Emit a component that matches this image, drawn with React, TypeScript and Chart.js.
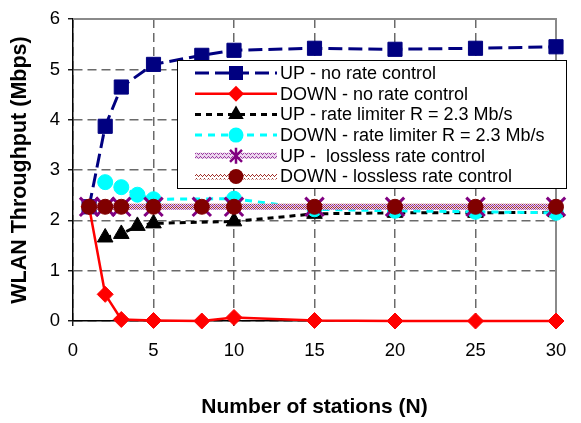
import React, { useEffect, useRef } from 'react';
import { Chart, registerables } from 'chart.js';

Chart.register(...registerables);

// ---- data ----
const xNoRate = [1, 2, 3, 5, 8, 10, 15, 20, 25, 30];
const upNoRate = [2.27, 3.87, 4.65, 5.1, 5.28, 5.38, 5.42, 5.4, 5.42, 5.45];
const downNoRate = [2.27, 0.53, 0.03, 0.01, 0.0, 0.07, 0.01, 0.0, 0.0, 0.0];
const xLimiter = [2, 3, 4, 5, 10, 15, 20, 25, 30];
const upLimiter = [1.66, 1.73, 1.89, 1.94, 1.98, 2.13, 2.15, 2.15, 2.16];
const downLimiter = [2.76, 2.66, 2.51, 2.42, 2.43, 2.22, 2.19, 2.17, 2.15];
const xLossless = [1, 2, 3, 5, 8, 10, 15, 20, 25, 30];
const upLossless = [2.27, 2.27, 2.27, 2.27, 2.27, 2.27, 2.27, 2.27, 2.27, 2.27];
const downLossless = [2.27, 2.27, 2.27, 2.27, 2.27, 2.27, 2.27, 2.27, 2.27, 2.27];
const seriesLabels = [
  'UP - no rate control',
  'DOWN - no rate control',
  'UP - rate limiter R = 2.3 Mb/s',
  'DOWN - rate limiter R = 2.3 Mb/s',
  'UP -  lossless rate control',
  'DOWN - lossless rate control',
];
const xAxisTitle = 'Number of stations (N)';
const yAxisTitle = 'WLAN Throughput (Mbps)';
const xRange = [0, 30, 5];
const yRange = [0, 6, 1];

const FONT = "'Liberation Sans', Arial, Helvetica, sans-serif";

function toPoints(xs: number[], ys: number[]) {
  return xs.map((x, i) => ({ x, y: ys[i] }));
}

function makePattern(ctx: CanvasRenderingContext2D, fg: string, bg: string | null, phase: number) {
  const c = document.createElement('canvas');
  c.width = 4;
  c.height = 4;
  const g = c.getContext('2d')!;
  if (bg) {
    g.fillStyle = bg;
    g.fillRect(0, 0, 4, 4);
  }
  g.fillStyle = fg;
  const pts = phase === 0 ? [[0, 0], [1, 1], [2, 2], [3, 1]] : [[0, 2], [1, 3], [2, 0], [3, 3]];
  pts.forEach(([x, y]) => g.fillRect(x, y, 1, 1));
  return ctx.createPattern(c, 'repeat')!;
}

export default function App() {
  const ref = useRef<HTMLCanvasElement>(null);

  useEffect(() => {
    const canvas = ref.current!;
    const ctx = canvas.getContext('2d')!;
    const patUp = makePattern(ctx, '#9a3aa0', '#ecd6ee', 0);
    const patDown = makePattern(ctx, '#a0302a', null, 1);

    const styles = [
      { color: '#000080', width: 3, dash: [14, 6], marker: 'rect', stroke: '#000080' as any },
      { color: '#ff0000', width: 2.5, dash: [], marker: 'diamond', stroke: '#ff0000' as any },
      { color: '#000000', width: 3, dash: [6, 5], marker: 'triangle', stroke: '#000000' as any },
      { color: '#00ffff', width: 3, dash: [7, 6], marker: 'circle', stroke: '#00ffff' as any },
      { color: '#800080', width: 6, dash: [], marker: 'star', stroke: patUp as any },
      { color: '#800000', width: 6, dash: [], marker: 'circle', stroke: patDown as any },
    ];

    const drawMarker = (c: CanvasRenderingContext2D, kind: string, color: string, x: number, y: number) => {
      c.save();
      c.fillStyle = color;
      c.strokeStyle = color;
      c.setLineDash([]);
      c.beginPath();
      if (kind === 'rect') {
        c.rect(x - 7, y - 7, 14, 14);
        c.fill();
      } else if (kind === 'diamond') {
        c.moveTo(x, y - 8);
        c.lineTo(x + 8, y);
        c.lineTo(x, y + 8);
        c.lineTo(x - 8, y);
        c.closePath();
        c.fill();
      } else if (kind === 'triangle') {
        const r = 9;
        c.moveTo(x, y - r);
        c.lineTo(x + r * 0.866, y + r / 2);
        c.lineTo(x - r * 0.866, y + r / 2);
        c.closePath();
        c.fill();
      } else if (kind === 'circle') {
        c.arc(x, y, 7.5, 0, Math.PI * 2);
        c.fill();
      } else if (kind === 'star') {
        c.lineWidth = 2.5;
        c.moveTo(x, y - 8);
        c.lineTo(x, y + 8);
        c.moveTo(x - 6, y - 6);
        c.lineTo(x + 6, y + 6);
        c.moveTo(x + 6, y - 6);
        c.lineTo(x - 6, y + 6);
        c.stroke();
      }
      c.restore();
    };

    const framePlugin = {
      id: 'frame',
      beforeDatasetsDraw(chart: any) {
        const { ctx: c, chartArea: a } = chart;
        c.save();
        c.strokeStyle = '#8a8a8a';
        c.lineWidth = 2;
        c.setLineDash([]);
        c.beginPath();
        c.moveTo(a.left, a.top);
        c.lineTo(a.right, a.top);
        c.lineTo(a.right, a.bottom);
        c.stroke();
        c.restore();
      },
    };

    const legendPlugin = {
      id: 'customLegend',
      afterDraw(chart: any) {
        const c: CanvasRenderingContext2D = chart.ctx;
        const bx = 177.5, by = 60.5, bw = 389, bh = 128;
        c.save();
        c.fillStyle = '#ffffff';
        c.fillRect(bx, by, bw, bh);
        c.strokeStyle = '#000000';
        c.lineWidth = 1;
        c.strokeRect(bx, by, bw, bh);
        seriesLabels.forEach((label, i) => {
          const s = styles[i];
          const y = 73 + i * 20.7;
          c.save();
          c.strokeStyle = s.stroke;
          c.lineWidth = s.width;
          c.setLineDash(s.dash);
          c.lineDashOffset = 0;
          c.beginPath();
          c.moveTo(195, y);
          c.lineTo(277, y);
          c.stroke();
          c.restore();
          drawMarker(c, s.marker, s.color, 236, y);
          c.fillStyle = '#000000';
          c.font = `18px ${FONT}`;
          c.textAlign = 'left';
          c.textBaseline = 'middle';
          c.fillText(label, 280, y + 1);
        });
        c.restore();
      },
    };

    const mk = (i: number, data: any[], pointStyle: string, radius: number, extra: any = {}) => ({
      label: seriesLabels[i],
      data,
      borderColor: styles[i].stroke,
      borderWidth: styles[i].width,
      borderDash: styles[i].dash,
      backgroundColor: styles[i].color,
      pointStyle,
      pointRadius: radius,
      pointBackgroundColor: styles[i].color,
      pointBorderColor: styles[i].color,
      pointBorderWidth: 1,
      tension: 0,
      fill: false,
      clip: false,
      order: 10 - i,
      ...extra,
    });

    const chart = new Chart(canvas, {
      type: 'line',
      data: {
        datasets: [
          mk(0, toPoints(xNoRate, upNoRate), 'rect', 10),
          mk(1, toPoints(xNoRate, downNoRate), 'rectRot', 8),
          mk(2, toPoints(xLimiter, upLimiter), 'triangle', 9),
          mk(3, toPoints(xLimiter, downLimiter), 'circle', 7.5),
          mk(4, toPoints(xLossless, upLossless), 'crossRot', 13, { pointBorderWidth: 3 }),
          mk(5, toPoints(xLossless, downLossless), 'circle', 7.5),
        ] as any,
      },
      options: {
        animation: false,
        responsive: false,
        devicePixelRatio: 1,
        layout: { padding: { left: 0, top: 15, right: 25, bottom: 0 } },
        plugins: { legend: { display: false }, tooltip: { enabled: false } },
        scales: {
          x: {
            type: 'linear',
            min: xRange[0],
            max: xRange[1],
            ticks: { stepSize: xRange[2], color: '#000', font: { family: FONT, size: 18.5 }, padding: 14, maxRotation: 0 },
            grid: { color: '#6a6a6a', lineWidth: 1.5, tickColor: '#000', tickLength: 5, tickWidth: 1.3 },
            border: { color: '#000', width: 1.5, dash: [9, 5] },
            title: { display: true, text: xAxisTitle, color: '#000', font: { family: FONT, size: 21, weight: 'bold' }, padding: { top: 0, bottom: 3 } },
            afterFit: (s: any) => { s.height = 102; },
          },
          y: {
            type: 'linear',
            min: yRange[0],
            max: yRange[1],
            ticks: { stepSize: yRange[2], color: '#000', font: { family: FONT, size: 18.5 }, padding: 8 },
            grid: { color: '#6a6a6a', lineWidth: 1.5, tickColor: '#000', tickLength: 5, tickWidth: 1.3 },
            border: { color: '#000', width: 1.5, dash: [9, 5] },
            title: { display: true, text: yAxisTitle, color: '#000', font: { family: FONT, size: 21.5, weight: 'bold' }, padding: { top: 7, bottom: 0 } },
            afterFit: (s: any) => { s.width = 73; },
          },
        },
      } as any,
      plugins: [framePlugin, legendPlugin],
    });

    return () => chart.destroy();
  }, []);

  return (
    <div style={{ position: 'absolute', left: 0, top: 0, width: 581, height: 423, background: '#fff' }}>
      <canvas ref={ref} width={581} height={423} style={{ width: 581, height: 423, display: 'block' }} />
    </div>
  );
}
